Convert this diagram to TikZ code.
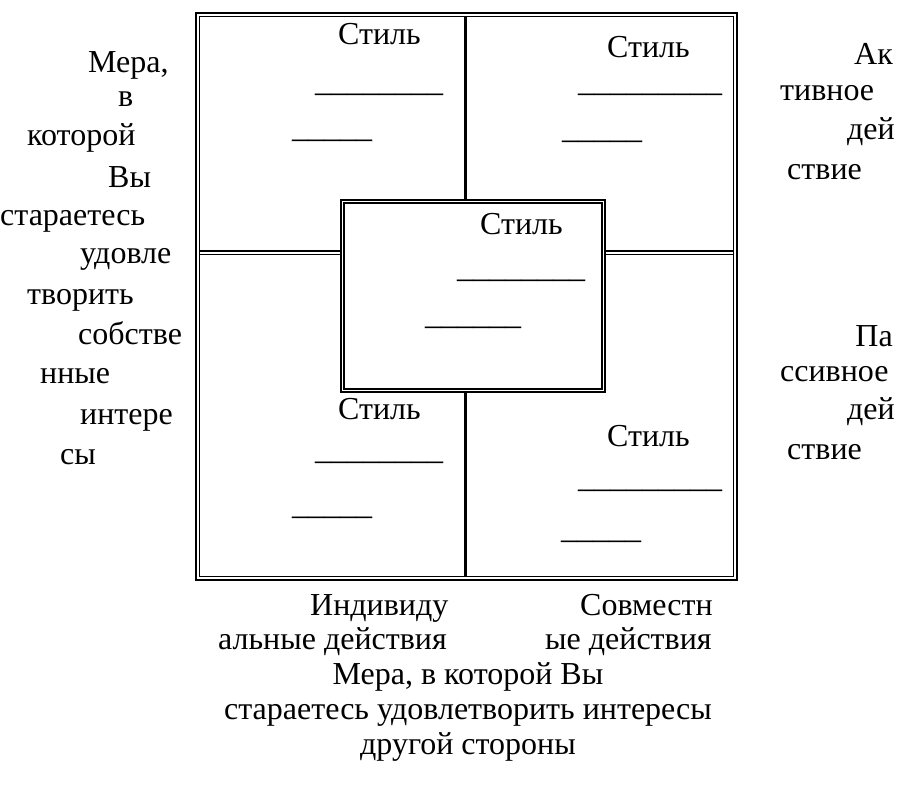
\documentclass[tikz,border=0pt]{standalone}
\usepackage{fontspec}
\setmainfont{Liberation Serif}
\usetikzlibrary{positioning}
\newcommand{\txtsize}{\fontsize{32}{37}\selectfont}
\tikzset{
  lbl/.style={inner sep=0pt, font=\txtsize, anchor=base west},
  rgt/.style={inner sep=0pt, font=\txtsize, anchor=base east},
  mid/.style={inner sep=0pt, font=\txtsize, anchor=base},
  thickframe/.style={line width=2pt},
  thinframe/.style={line width=1.3pt}
}
\begin{document}
\begin{tikzpicture}[x=1pt, y=-1pt]
  \useasboundingbox (0,0) rectangle (899,800);
  % frames %
  \draw[thickframe] (196,13) rectangle (737,580);
  \draw[thinframe] (199.5,16.5) rectangle (733.5,576.5);
  \draw[thickframe] (341,200) rectangle (605,392);
  \draw[thinframe] (344,203) rectangle (602,389);
  % dividers %
  \coordinate (tl) at (199.5,251);
  \coordinate (cl) at (341,251);
  \coordinate (cr) at (605,251);
  \coordinate (tr) at (733.5,251);
  \draw[thinframe] (tl) -- (cl) (cr) -- (tr);
  \draw[thinframe] ([yshift=-3.5pt]tl) -- ([yshift=-3.5pt]cl) ([yshift=-3.5pt]cr) -- ([yshift=-3.5pt]tr);
  \coordinate (vt) at (465,16.5);
  \coordinate (vc) at (465,200);
  \coordinate (vd) at (465,392);
  \coordinate (vb) at (465,576.5);
  \draw[line width=3pt] (vt) -- (vc) (vd) -- (vb);
  % cells %
  \node[lbl] (s1) at (338,45) {Стиль};
  \node[lbl] (s1a) at (315,91) {\_\_\_\_\_\_\_\_};
  \node[lbl] (s1b) at (292,137) {\_\_\_\_\_};
  \node[lbl] (s2) at (607,57) {Стиль};
  \node[lbl] (s2a) at (578,92) {\_\_\_\_\_\_\_\_\_};
  \node[lbl] (s2b) at (562,138) {\_\_\_\_\_};
  \node[lbl] (s3) at (480,234) {Стиль};
  \node[lbl] (s3a) at (457,277) {\_\_\_\_\_\_\_\_};
  \node[lbl] (s3b) at (425,324) {\_\_\_\_\_\_};
  \node[lbl] (s4) at (338,419) {Стиль};
  \node[lbl] (s4a) at (315,459) {\_\_\_\_\_\_\_\_};
  \node[lbl] (s4b) at (292,514) {\_\_\_\_\_};
  \node[lbl] (s5) at (607,446) {Стиль};
  \node[lbl] (s5a) at (578,487) {\_\_\_\_\_\_\_\_\_};
  \node[lbl] (s5b) at (561,538) {\_\_\_\_\_};
  % left column %
  \node[lbl] (l1) at (88,72) {Мера,};
  \node[lbl] (l2) at (118,106) {в};
  \node[lbl] (l3) at (27,145) {которой};
  \node[lbl] (l4) at (108,187) {Вы};
  \node[lbl] (l5) at (0,225) {стараетесь};
  \node[lbl] (l6) at (80,263) {удовле};
  \node[lbl] (l7) at (27,304) {творить};
  \node[lbl] (l8) at (78,344) {собстве};
  \node[lbl] (l9) at (40,383) {нные};
  \node[lbl] (l10) at (80,424) {интере};
  \node[lbl] (l11) at (60,464) {сы};
  % right column %
  \node[rgt] (r1) at (893,64) {Ак};
  \node[lbl] (r2) at (780,100) {тивное};
  \node[rgt] (r3) at (895,139) {дей};
  \node[lbl] (r4) at (787,179) {ствие};
  \node[rgt] (r5) at (893,346) {Па};
  \node[lbl] (r6) at (780,381) {ссивное};
  \node[rgt] (r7) at (895,419) {дей};
  \node[lbl] (r8) at (787,459) {ствие};
  % bottom %
  \node[lbl] (b1) at (310,615) {Индивиду};
  \node[lbl] (b2) at (580,615) {Совместн};
  \node[lbl] (b3) at (218,649) {альные действия};
  \node[lbl] (b4) at (545,649) {ые действия};
  \node[mid] (b5) at (468,684) {Мера, в которой Вы};
  \node[mid] (b6) at (468,719) {стараетесь удовлетворить интересы};
  \node[mid] (b7) at (468,754) {другой стороны};
\end{tikzpicture}
\end{document}
